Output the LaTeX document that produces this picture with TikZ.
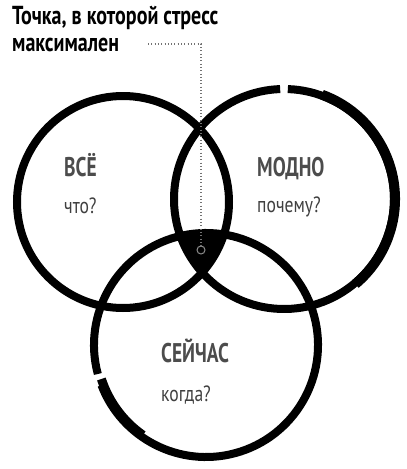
\documentclass[tikz,border=0pt]{standalone}
\usepackage{fontspec}
\usetikzlibrary{calc}
\setmainfont{PT Sans}
\newfontfamily\titlefont[FakeStretch=0.77]{PT Sans}
\newfontfamily\labelfont[FakeStretch=0.72]{PT Sans}
\newfontfamily\questfont[FakeStretch=0.8]{PT Sans}
\begin{document}
\begin{tikzpicture}[x=1pt,y=-1pt,
  ring/.style={line width=8pt,black},
  title/.style={anchor=base west,inner sep=0pt,font=\titlefont\fontsize{26}{30}\selectfont\bfseries,black},
  big/.style={anchor=base west,inner sep=0pt,font=\labelfont\fontsize{27}{30}\selectfont\bfseries,text=black!70},
  small/.style={anchor=base west,inner sep=0pt,font=\questfont\fontsize{22}{26}\selectfont,text=black!75},
  guide/.style={black!55,line width=1.1pt,dash pattern=on 0.9pt off 2.4pt}]
\useasboundingbox[fill=white] (0,0) rectangle (407,469);
% centres
\coordinate (cl) at (123,202);
\coordinate (cr) at (284,199);
\coordinate (cb) at (206,345);
% central region
\begin{scope}
  \clip (cl) circle[radius=106];
  \clip (cr) circle[radius=110];
  \fill[black] (cb) circle[radius=112];
\end{scope}
% circles
\draw[ring] (cl) circle[radius=106];
\draw[ring] ($(cr)+(-88:110)$) arc[start angle=-88,end angle=268,radius=110];
\draw[line width=10pt] ($(cr)+(-70:111)$) arc[start angle=-70,end angle=50,radius=111];
\draw[ring] ($(cb)+(165:112)$) arc[start angle=165,end angle=519,radius=112];
\draw[line width=9pt] ($(cb)+(162:110)$) arc[start angle=162,end angle=125,radius=110];
% labels
\node[title] (t1) at (12,24) {Точка, в которой стресс};
\node[title] (t2) at (12,51) {максимален};
\node[big] (l1) at (64,176) {ВСЁ};
\node[small] (q1) at (64,213) {что?};
\node[big] (l2) at (257,176) {МОДНО};
\node[small] (q2) at (257,212) {почему?};
\node[big] (l3) at (161,362) {СЕЙЧАС};
\node[small] (q3) at (161,401) {когда?};
% stress point
\node[circle,draw=black!45,line width=1pt,minimum size=8pt,inner sep=0pt] (pt) at (201,250) {};
\coordinate (d0) at (148,44);
\coordinate (d1) at (201,44);
\draw[guide] (d0) -- (d1) -- (pt.north);
\end{tikzpicture}
\end{document}
